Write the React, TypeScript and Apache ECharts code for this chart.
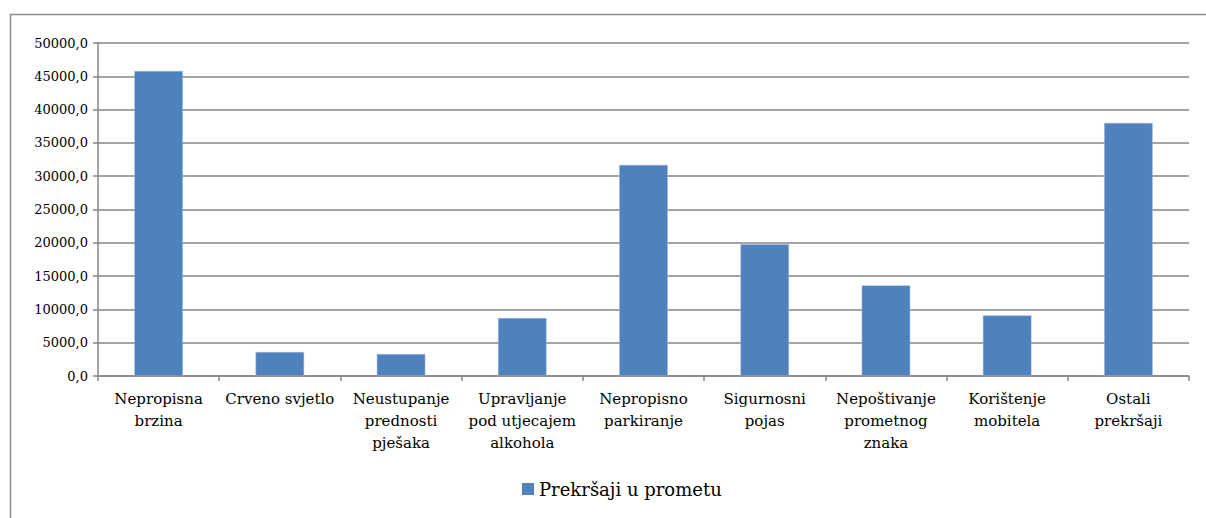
import React, { useEffect, useRef } from "react";
import * as echarts from "echarts";

const categories = [
  "Nepropisna\nbrzina",
  "Crveno svjetlo",
  "Neustupanje\nprednosti\npješaka",
  "Upravljanje\npod utjecajem\nalkohola",
  "Nepropisno\nparkiranje",
  "Sigurnosni\npojas",
  "Nepoštivanje\nprometnog\nznaka",
  "Korištenje\nmobitela",
  "Ostali\nprekršaji",
];
const values = [45800, 3600, 3300, 8700, 31700, 19800, 13600, 9100, 38000];
const seriesName = "Prekršaji u prometu";

const FONT = "'DejaVu Serif', 'Liberation Serif', serif";

export default function App() {
  const ref = useRef<HTMLDivElement>(null);
  useEffect(() => {
    if (!ref.current) return;
    const chart = echarts.init(ref.current, undefined, { renderer: "svg" });
    chart.setOption({
      animation: false,
      backgroundColor: "#ffffff",
      textStyle: { fontFamily: FONT },
      graphic: [
        {
          type: "rect",
          shape: { x: 10.5, y: 14.5, width: 1400, height: 700 },
          style: { fill: "none", stroke: "#8c8c8c", lineWidth: 1.5 },
          silent: true,
        },
      ],
      grid: { left: 98, right: 17, top: 43, bottom: 142, containLabel: false },
      legend: {
        bottom: 15,
        left: 517,
        itemWidth: 12,
        itemHeight: 12,
        itemGap: 6,
        icon: "rect",
        itemStyle: { borderWidth: 0 },
        textStyle: { fontFamily: FONT, fontSize: 18, color: "#000" },
        data: [seriesName],
      },
      xAxis: {
        type: "category",
        data: categories,
        axisLine: { lineStyle: { color: "#868686", width: 1.5 } },
        axisTick: { show: true, length: 5, alignWithLabel: false, lineStyle: { color: "#868686", width: 1.5 } },
        axisLabel: {
          interval: 0,
          color: "#000",
          fontFamily: FONT,
          fontSize: 15,
          lineHeight: 22,
          margin: 12,
        },
      },
      yAxis: {
        type: "value",
        min: 0,
        max: 50000,
        interval: 5000,
        axisLine: { show: true, lineStyle: { color: "#868686", width: 1.5 } },
        axisTick: { show: true, length: 5, lineStyle: { color: "#868686", width: 1.5 } },
        splitLine: { lineStyle: { color: "#868686", width: 1.5 } },
        axisLabel: {
          color: "#000",
          fontFamily: FONT,
          fontSize: 13,
          margin: 10,
          formatter: (v: number) => v.toFixed(1).replace(".", ","),
        },
      },
      series: [
        {
          name: seriesName,
          type: "bar",
          data: values,
          barWidth: "40%",
          itemStyle: { color: "#4f81bd", borderColor: "#9dbbe0", borderWidth: 0.5 },
        },
      ],
    });
    return () => chart.dispose();
  }, []);
  return (
    <div
      ref={ref}
      style={{ position: "absolute", left: 0, top: 0, width: 1206, height: 518 }}
    />
  );
}
